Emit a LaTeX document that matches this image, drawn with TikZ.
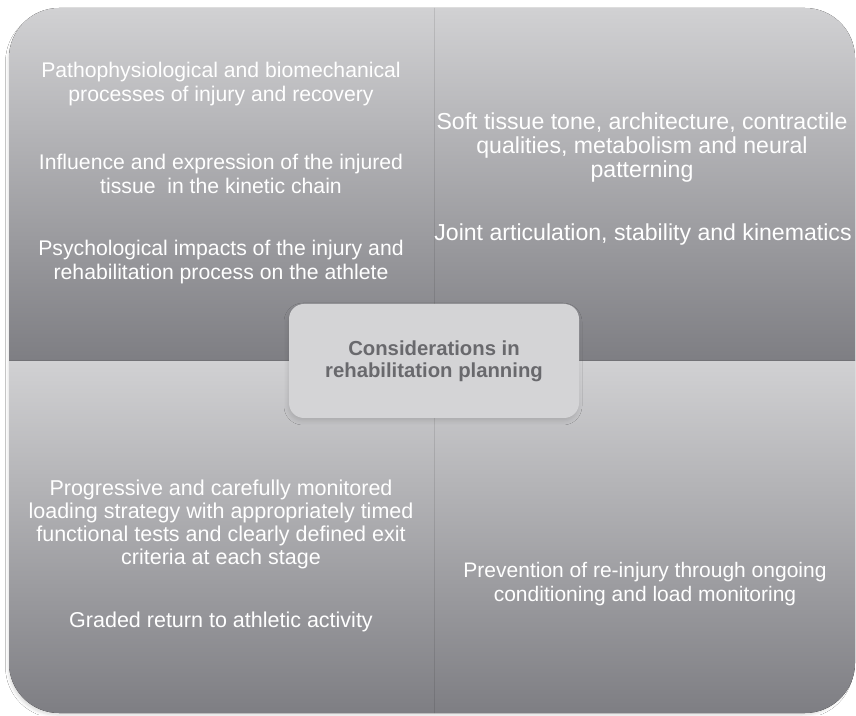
\documentclass[tikz,border=0pt]{standalone}
\usepackage{fontspec}
\setmainfont{Liberation Sans}
\usetikzlibrary{shadows.blur}
\definecolor{qtop}{HTML}{D1D1D3}
\definecolor{qbot}{HTML}{7E7E83}
\definecolor{cbox}{HTML}{D4D4D6}
\definecolor{ctext}{HTML}{69696D}
\tikzset{
  quad/.style={top color=qtop, bottom color=qbot, draw=none},
  qtext/.style={text=white, align=center, inner sep=0pt},
  hub/.style={fill=cbox, draw=none, rounded corners=15pt, minimum width=290pt, minimum height=114pt,
    text=ctext, align=center, font=\bfseries\fontsize{20.3}{22}\selectfont,
    blur shadow={shadow xshift=-1pt, shadow yshift=-3pt, shadow opacity=12, shadow blur radius=4pt}},
}
\begin{document}
\begin{tikzpicture}[x=1pt,y=1pt]
\useasboundingbox (0,0) rectangle (856,715);
\fill[white] (0,0) rectangle (856,715);
% outer shadow (base shape inset so that it stays hidden under the quadrants)
\fill[qtop, blur shadow={shadow xshift=-2.5pt, shadow yshift=-4pt, shadow opacity=14, shadow blur radius=3pt}]
  (11,52) arc[start angle=180,end angle=270,radius=48] -- (805,4) arc[start angle=270,end angle=360,radius=48]
  -- (853,657) arc[start angle=0,end angle=90,radius=48] -- (59,705) arc[start angle=90,end angle=180,radius=48] -- cycle;
% quadrants
\fill[quad] (434,354) -- (9,354) -- (9,657) arc[start angle=180,end angle=90,radius=50] -- (434,707) -- cycle;
\fill[quad] (434,354) -- (434,707) -- (805,707) arc[start angle=90,end angle=0,radius=50] -- (855,354) -- cycle;
\fill[quad] (434,354) -- (434,2) -- (59,2) arc[start angle=270,end angle=180,radius=50] -- (9,354) -- cycle;
\fill[quad] (434,354) -- (855,354) -- (855,52) arc[start angle=0,end angle=-90,radius=50] -- (434,2) -- cycle;
\draw[black, opacity=0.1, line width=1.5pt] (434.5,2) -- (434.5,707);
\draw[black, opacity=0.06, line width=1pt] (9,354) -- (855,354);
% texts top-left
\begin{scope}[every node/.append style={font=\fontsize{21.2}{24}\selectfont}]
\node[qtext] (tl1) at (221,631) {Pathophysiological and biomechanical\\processes of injury and recovery};
\node[qtext] (tl2) at (221,541) {Influence and expression of the injured\\tissue~ in the kinetic chain};
\node[qtext] (tl3) at (221,453) {Psychological impacts of the injury and\\rehabilitation process on the athlete};
\end{scope}
% top-right
\begin{scope}[every node/.append style={font=\fontsize{23.1}{24}\selectfont}]
\node[qtext] (tr1) at (642,567) {Soft tissue tone, architecture, contractile\\qualities, metabolism and neural\\patterning};
\node[qtext] (tr2) at (643,480) {Joint articulation, stability and kinematics};
\end{scope}
% bottom-left
\begin{scope}[every node/.append style={font=\fontsize{21.5}{23}\selectfont}]
\node[qtext] (bl1) at (221,191) {Progressive and carefully monitored\\loading strategy with appropriately timed\\functional tests and clearly defined exit\\criteria at each stage};
\node[qtext] (bl2) at (221,93) {Graded return to athletic activity};
\end{scope}
% bottom-right
\begin{scope}[every node/.append style={font=\fontsize{21}{24}\selectfont}]
\node[qtext] (br1) at (645,131) {Prevention of re-injury through ongoing\\conditioning and load monitoring};
\end{scope}
% hub
\node[hub] (hub) at (434,354) {Considerations in\\rehabilitation planning};
\end{tikzpicture}
\end{document}
